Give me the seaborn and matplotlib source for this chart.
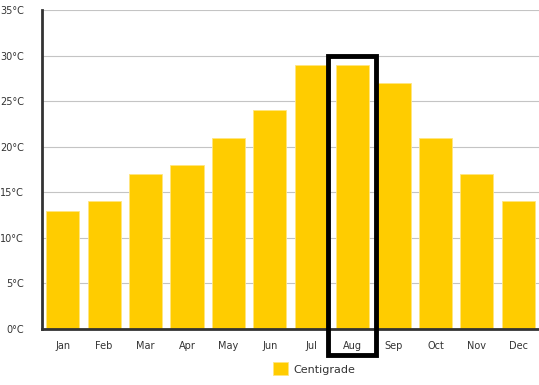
import pandas as pd
import matplotlib.pyplot as plt
import seaborn as sns
from matplotlib.patches import Rectangle

# monthly average temperature
months = ["Jan", "Feb", "Mar", "Apr", "May", "Jun", "Jul", "Aug", "Sep", "Oct", "Nov", "Dec"]
centigrade = [13, 14, 17, 18, 21, 24, 29, 29, 27, 21, 17, 14]
y_ticks = [0, 5, 10, 15, 20, 25, 30, 35]
highlight = "Aug"

df = pd.DataFrame({"month": months, "Centigrade": centigrade})

sns.set_style("white")
plt.rcParams['font.family'] = ['DejaVu Sans']

fig = plt.figure(figsize=(5.39, 3.85), dpi=100)
ax = fig.add_axes([0.078, 0.1455, 0.922, 0.8285])

sns.barplot(data=df, x="month", y="Centigrade", color="#FFCC00", saturation=1,
            width=0.8, ax=ax, label="Centigrade", zorder=2, edgecolor="#FFE680", linewidth=0.6)

ax.set_ylim(0, 35)
ax.set_xlim(-0.5, len(months) - 0.5)
ax.set_yticks(y_ticks)
ax.set_yticklabels([f"{t}°C" for t in y_ticks], fontsize=7, color="#333333")
ax.set_xticks(range(len(months)))
ax.set_xticklabels(months, fontsize=7, color="#333333")
ax.set_xticks([i - 0.5 for i in range(len(months) + 1)], minor=True)
ax.tick_params(axis="x", which="major", length=0, pad=9)
ax.tick_params(axis="x", which="minor", length=9, color="#cccccc", width=0.8)
ax.tick_params(axis="y", length=0, pad=13)
ax.grid(axis="y", color="#c4c4c4", linewidth=0.8, zorder=0)
ax.set_axisbelow(True)
ax.set_xlabel("")
ax.set_ylabel("")

for s in ["top", "right"]:
    ax.spines[s].set_visible(False)
ax.spines["left"].set_color("#333333")
ax.spines["left"].set_linewidth(2)
ax.spines["bottom"].set_color("#333333")
ax.spines["bottom"].set_linewidth(2)

# box around the highlighted month
hi = months.index(highlight)
ax.add_patch(Rectangle((hi - 0.6, -2.85), 1.16, 32.85, fill=False,
                       edgecolor="black", linewidth=3.5, clip_on=False, zorder=5))

ax.legend(loc="center", bbox_to_anchor=(0.583, 0.042), bbox_transform=fig.transFigure,
          frameon=False, fontsize=8, handlelength=1.3, handleheight=1.4,
          handletextpad=0.5, labelcolor="#333333")

plt.savefig("out.png", dpi=100)
